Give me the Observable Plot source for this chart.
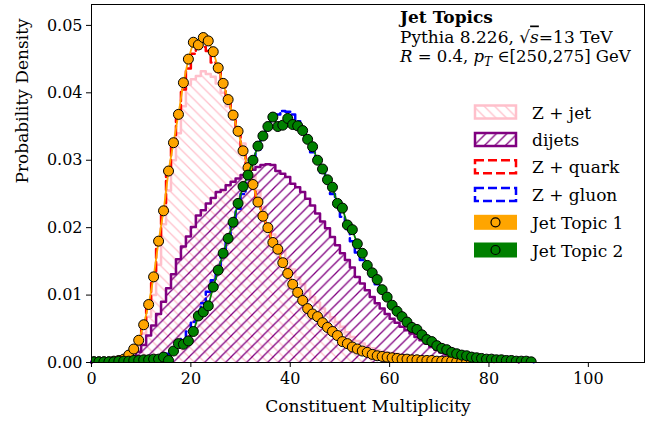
<!DOCTYPE html>
<html><head><meta charset="utf-8">
<script src="https://cdn.jsdelivr.net/npm/d3@7"></script>
<script src="https://cdn.jsdelivr.net/npm/@observablehq/plot@0.6"></script>
<style>
body{margin:0;background:#fff;}
#wrap{position:relative;width:657px;height:424px;}
#overlay{position:absolute;left:0;top:0;}
</style></head><body>
<svg width="0" height="0" style="position:absolute">
<defs>
<pattern id="hatchPink" patternUnits="userSpaceOnUse" width="10.5" height="10.5">
<path d="M0,0 L10.5,10.5 M-1.5,9 L1.5,12 M9,-1.5 L12,1.5" stroke="pink" stroke-width="1.3" fill="none"/>
</pattern>
<pattern id="hatchPurple" patternUnits="userSpaceOnUse" width="10.5" height="10.5">
<path d="M0,10.5 L10.5,0 M-1.5,1.5 L1.5,-1.5 M9,12 L12,9" stroke="purple" stroke-width="1.3" fill="none"/>
</pattern>
</defs>
</svg>
<div id="wrap"></div>
<script>
// bin values, bins [n, n+1] starting at 0
const zJet = [0.0001,0.0001,0.0001,0.0001,0.0001,0.0001,0.0003,0.0007,0.0014,0.0025,
 0.0043,0.0068,0.0100,0.0145,0.0205,0.0255,0.0300,0.0340,0.0380,0.0412,
 0.0420,0.0425,0.0432,0.0428,0.0424,0.0414,0.0400,0.0380,0.0360,0.0340,
 0.0325,0.0302,0.0278,0.0255,0.0231,0.0200,0.0190,0.0180,0.0165,0.0152,
 0.0138,0.0126,0.0116,0.0106,0.0097,0.0089,0.0080,0.0073,0.0067,0.0060,
 0.0053,0.0045,0.0038,0.0032,0.0028,0.0024,0.0021,0.0018,0.0016,0.0015,
 0.0014,0.0013,0.0011,0.0010,0.0009,0.0008,0.0007,0.0006,0.0005,0.0005,
 0.0004,0.0004,0.0003,0.0003,0.0002,0.0002,0.0002,0.0001,0.0001,0.0001,
 0.0001];
const dijets = [0.0001,0.0001,0.0001,0.0001,0.0001,0.0001,0.0002,0.0005,0.0009,0.0016,
 0.0026,0.0040,0.0055,0.0072,0.0090,0.0110,0.0131,0.0153,0.0172,0.0187,
 0.0201,0.0218,0.0226,0.0236,0.0244,0.0253,0.0256,0.0263,0.0268,0.0273,
 0.0278,0.0281,0.0286,0.0290,0.0293,0.0294,0.0293,0.0284,0.0280,0.0275,
 0.0265,0.0260,0.0253,0.0243,0.0233,0.0221,0.0209,0.0199,0.0186,0.0174,
 0.0162,0.0152,0.0141,0.0127,0.0117,0.0107,0.0097,0.0088,0.0080,0.0072,
 0.0065,0.0059,0.0053,0.0048,0.0043,0.0038,0.0033,0.0028,0.0023,0.0019,
 0.0015,0.0012,0.0010,0.0008,0.0006,0.0005,0.0004,0.0003,0.0002,0.0002,
 0.0001,0.0001,0.0001,0.0001,0.0001,0.0001];
const zQuark = [0.0001,0.0001,0.0001,0.0001,0.0002,0.0003,0.0005,0.0010,0.0019,0.0032,
 0.0054,0.0085,0.0125,0.0175,0.0225,0.0280,0.0325,0.0365,0.0405,0.0436,
 0.0458,0.0466,0.0468,0.0462,0.0445,0.0430,0.0410,0.0388,0.0365,0.0340,
 0.0315,0.0290,0.0265,0.0242,0.0220,0.0200,0.0180,0.0165,0.0150,0.0134,
 0.0119,0.0106,0.0094,0.0083,0.0074,0.0066,0.0058,0.0051,0.0045,0.0039,
 0.0034,0.0029,0.0025,0.0021,0.0018,0.0016,0.0013,0.0011,0.0010,0.0008,
 0.0007,0.0006,0.0005,0.0005,0.0004,0.0004,0.0003,0.0003,0.0002,0.0002,
 0.0002,0.0002,0.0001,0.0001,0.0001,0.0001,0.0001];
const zGluon = [0.0001,0.0001,0.0001,0.0001,0.0001,0.0002,0.0002,0.0002,0.0003,0.0003,
 0.0004,0.0005,0.0006,0.0008,0.0010,0.0013,0.0018,0.0025,0.0035,0.0046,
 0.0060,0.0075,0.0088,0.0105,0.0122,0.0142,0.0162,0.0182,0.0203,0.0228,
 0.0250,0.0272,0.0298,0.0316,0.0333,0.0348,0.0360,0.0368,0.0373,0.0372,
 0.0368,0.0358,0.0346,0.0330,0.0312,0.0297,0.0282,0.0266,0.0250,0.0232,
 0.0216,0.0198,0.0180,0.0163,0.0152,0.0140,0.0128,0.0116,0.0105,0.0094,
 0.0084,0.0075,0.0067,0.0059,0.0052,0.0046,0.0040,0.0034,0.0030,0.0025,
 0.0021,0.0018,0.0015,0.0013,0.0011,0.0009,0.0008,0.0007,0.0006,0.0005,
 0.0004,0.0004,0.0003,0.0003,0.0002,0.0002,0.0002,0.0001,0.0001];
const topic1 = [0.0001,0.0001,0.0001,0.0001,0.0002,0.0003,0.0005,0.0011,0.0020,0.0033,
 0.0056,0.0086,0.0127,0.0180,0.0225,0.0284,0.0326,0.0368,0.0415,0.0450,
 0.0475,0.0471,0.0482,0.0477,0.0461,0.0437,0.0414,0.0390,0.0367,0.0343,
 0.0314,0.0289,0.0264,0.0238,0.0217,0.0200,0.0178,0.0168,0.0148,0.0132,
 0.0116,0.0104,0.0092,0.0080,0.0072,0.0068,0.0059,0.0052,0.0046,0.0040,
 0.0031,0.0028,0.0023,0.0020,0.0017,0.0015,0.0012,0.0010,0.0009,0.0008,
 0.0007,0.0006,0.0005,0.0005,0.0004,0.0004,0.0003,0.0003,0.0003,0.0002,
 0.0002,0.0002,0.0002,0.0001,0.0001,0.0001,0.0001];
const topic2 = [0.0001,0.0001,0.0001,0.0001,0.0001,0.0002,0.0002,0.0002,0.0003,0.0003,
 0.0004,0.0004,0.0005,0.0005,0.0008,0.0003,0.0017,0.0028,0.0027,0.0032,
 0.0046,0.0069,0.0075,0.0084,0.0112,0.0137,0.0162,0.0184,0.0208,0.0236,
 0.0261,0.0278,0.0300,0.0321,0.0336,0.0350,0.0364,0.0350,0.0352,0.0362,
 0.0353,0.0351,0.0344,0.0331,0.0320,0.0300,0.0287,0.0271,0.0260,0.0236,
 0.0229,0.0204,0.0197,0.0176,0.0162,0.0144,0.0133,0.0123,0.0108,0.0097,
 0.0085,0.0076,0.0068,0.0060,0.0052,0.0049,0.0041,0.0034,0.0031,0.0025,
 0.0021,0.0019,0.0015,0.0013,0.0011,0.0010,0.0008,0.0007,0.0006,0.0005,
 0.0005,0.0004,0.0004,0.0003,0.0003,0.0002,0.0002,0.0002,0.0001];
const xTicks = [0, 20, 40, 60, 80, 100];
const yTicks = [0, 0.01, 0.02, 0.03, 0.04, 0.05];
const legendLabels = ["Z + jet", "dijets", "Z + quark", "Z + gluon", "Jet Topic 1", "Jet Topic 2"];

function stepPts(vals) {
  const pts = [{x: 0, y: 0}];
  vals.forEach((v, i) => { pts.push({x: i, y: v}, {x: i + 1, y: v}); });
  pts.push({x: vals.length, y: 0});
  return pts;
}
function centers(vals) { return vals.map((v, i) => ({x: i + 0.5, y: v})); }

const FONT = "'DejaVu Serif', 'Liberation Serif', serif";
const chart = Plot.plot({
  width: 657, height: 424,
  marginLeft: 91, marginRight: 13, marginTop: 4, marginBottom: 62,
  style: {fontFamily: FONT, color: "black", background: "white"},
  x: {domain: [0, 111.3]},
  y: {domain: [0, 0.0531]},
  marks: [
    Plot.area(stepPts(zJet), {x1: "x", y1: 0, y2: "y", fill: "url(#hatchPink)"}),
    Plot.line(stepPts(zJet), {x: "x", y: "y", stroke: "pink", strokeWidth: 2.5}),
    Plot.area(stepPts(dijets), {x1: "x", y1: 0, y2: "y", fill: "url(#hatchPurple)"}),
    Plot.line(stepPts(dijets), {x: "x", y: "y", stroke: "purple", strokeWidth: 2.5}),
    Plot.line(stepPts(zQuark), {x: "x", y: "y", stroke: "red", strokeWidth: 2.5, strokeDasharray: "9,4"}),
    Plot.line(stepPts(zGluon), {x: "x", y: "y", stroke: "blue", strokeWidth: 2.5, strokeDasharray: "9,4"}),
    Plot.line(centers(topic1), {x: "x", y: "y", stroke: "orange", strokeWidth: 1.8}),
    Plot.dot(centers(topic1), {x: "x", y: "y", r: 5, fill: "orange", stroke: "black", strokeWidth: 1, clip: true}),
    Plot.line(centers(topic2), {x: "x", y: "y", stroke: "green", strokeWidth: 1.8}),
    Plot.dot(centers(topic2), {x: "x", y: "y", r: 5, fill: "green", stroke: "black", strokeWidth: 1, clip: true}),
    Plot.axisX({ticks: xTicks, tickSize: 5, tickPadding: 5, label: null, fontSize: 16}),
    Plot.axisY({ticks: yTicks, tickFormat: d3.format(".2f"), tickSize: 5, tickPadding: 4, label: null, fontSize: 16}),
    Plot.text(["Constituent Multiplicity"], {frameAnchor: "bottom", dy: 44, lineAnchor: "middle", fontSize: 17}),
    Plot.text(["Probability Density"], {frameAnchor: "left", dx: -69, rotate: -90, lineAnchor: "middle", fontSize: 17}),
    Plot.frame({stroke: "black", strokeWidth: 1})
  ]
});
const wrap = document.getElementById("wrap");
wrap.appendChild(chart);

// overlay: annotation + legend
const ov = d3.select(wrap).append("svg").attr("id", "overlay")
  .attr("width", 657).attr("height", 424)
  .style("font-family", FONT).style("font-size", "17px");
ov.append("text").attr("x", 400).attr("y", 23).attr("font-weight", "bold").text("Jet Topics");
const t2 = ov.append("text").attr("x", 400).attr("y", 42.5);
t2.append("tspan").text("Pythia 8.226, √");
t2.append("tspan").attr("font-style", "italic").style("text-decoration", "overline").text("s");
t2.append("tspan").text("=13 TeV");
const t3 = ov.append("text").attr("x", 400).attr("y", 61.5).style("font-size", "16.5px");
t3.append("tspan").attr("font-style", "italic").text("R");
t3.append("tspan").text(" = 0.4, ");
t3.append("tspan").attr("font-style", "italic").text("p");
t3.append("tspan").attr("font-style", "italic").attr("font-size", "12px").attr("dy", 4).text("T");
t3.append("tspan").attr("dy", -4).text(" ∈[250,275] GeV");

const rowsY = [112, 139.5, 166.8, 194.5, 222.3, 250];
const sx = 475, sw = 41, sh = 13;
legendLabels.forEach((lab, i) => {
  const cy = rowsY[i];
  const g = ov.append("g");
  if (i === 0 || i === 1) {
    g.append("rect").attr("x", sx).attr("y", cy - sh / 2).attr("width", sw).attr("height", sh)
      .attr("fill", i === 0 ? "url(#hatchPink)" : "url(#hatchPurple)")
      .attr("stroke", i === 0 ? "pink" : "purple").attr("stroke-width", 2.5);
  } else if (i === 2 || i === 3) {
    g.append("rect").attr("x", sx).attr("y", cy - sh / 2).attr("width", sw).attr("height", sh)
      .attr("fill", "none").attr("stroke", i === 2 ? "red" : "blue").attr("stroke-width", 2.5)
      .attr("stroke-dasharray", "9,4");
  } else {
    const c = i === 4 ? "orange" : "green";
    g.append("rect").attr("x", sx - 1).attr("y", cy - 7.5).attr("width", sw + 2).attr("height", 15).attr("fill", c);
    g.append("circle").attr("cx", sx + sw / 2).attr("cy", cy).attr("r", 4.5).attr("fill", c)
      .attr("stroke", "black").attr("stroke-width", 1.2);
  }
  ov.append("text").attr("x", 532).attr("y", cy + 6.5).text(lab);
});
</script>
</body></html>
